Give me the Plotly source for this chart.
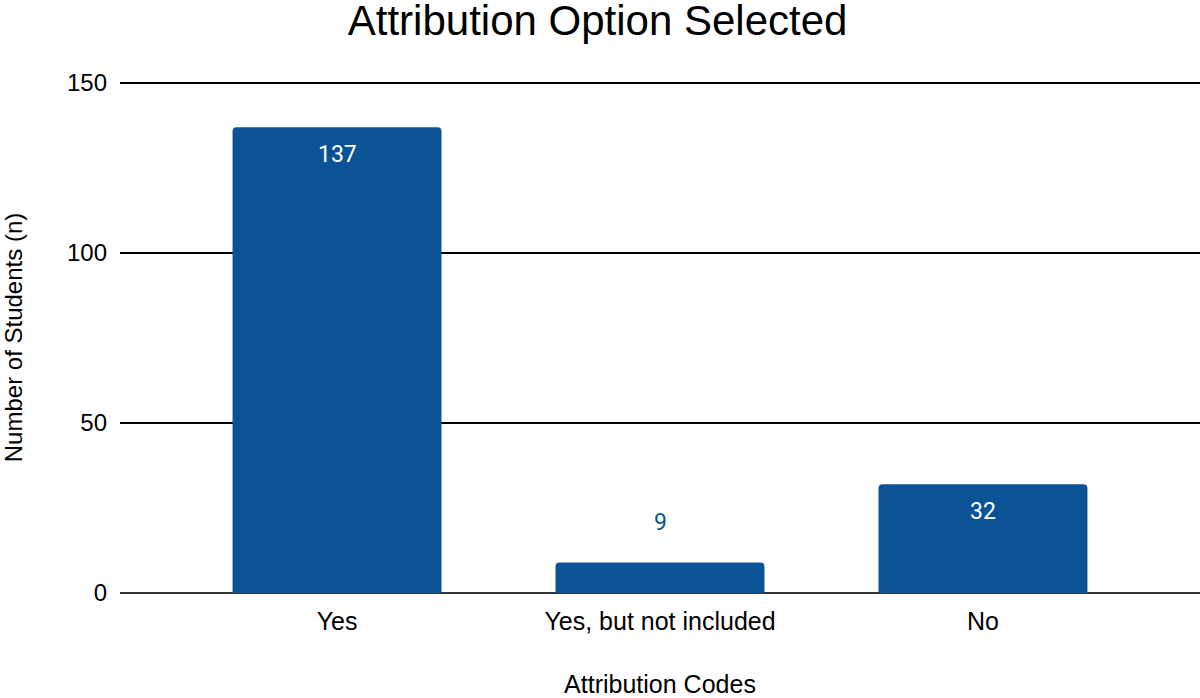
import plotly.graph_objects as go

categories = ["Yes", "Yes, but not included", "No"]
values = [137, 9, 32]
y_ticks = [0, 50, 100, 150]

bar_color = "#0b5394"

fig = go.Figure()
fig.add_trace(go.Bar(
    x=categories, y=values, marker=dict(color=bar_color, line=dict(width=0)),
    width=0.647, hoverinfo="skip",
))

for c, v in zip(categories, values):
    inside = v >= 20
    fig.add_annotation(
        x=c, y=v, xref="x", yref="y", text=str(v), showarrow=False,
        yanchor="middle", yshift=-27 if inside else 40,
        font=dict(family="Roboto", size=23, color="white" if inside else bar_color),
    )

fig.update_layout(
    width=1200, height=698,
    margin=dict(l=120, r=0, t=82, b=105),
    paper_bgcolor="white", plot_bgcolor="white",
    barcornerradius=4,
    showlegend=False,
    title=dict(text="Attribution Option Selected", x=0.498, xanchor="center",
               y=0.971, yanchor="middle",
               font=dict(family="Liberation Sans", size=42, color="black")),
    font=dict(family="Liberation Sans", size=25, color="black"),
    xaxis=dict(
        range=[-0.672, 2.672], showgrid=False, ticks="", ticklabelstandoff=11,
        automargin=False,
        title=dict(text="Attribution Codes", standoff=57,
                   font=dict(family="Liberation Sans", size=25)),
        tickfont=dict(family="Liberation Sans", size=25, color="black"),
        showline=False, zeroline=False,
    ),
    yaxis=dict(
        range=[0, 150.3], tickvals=y_ticks, showgrid=True, gridcolor="black",
        gridwidth=1.5, zeroline=True, zerolinecolor="#333333", zerolinewidth=2,
        ticks="", ticklabelstandoff=12, automargin=False,
        tickfont=dict(family="Liberation Sans", size=24, color="black"),
        title=dict(text="Number of Students (n)", standoff=40,
                   font=dict(family="Liberation Sans", size=24)),
    ),
)

fig.write_html("out.html", config={"displayModeBar": False},
               post_script="document.body.style.margin='0';")
